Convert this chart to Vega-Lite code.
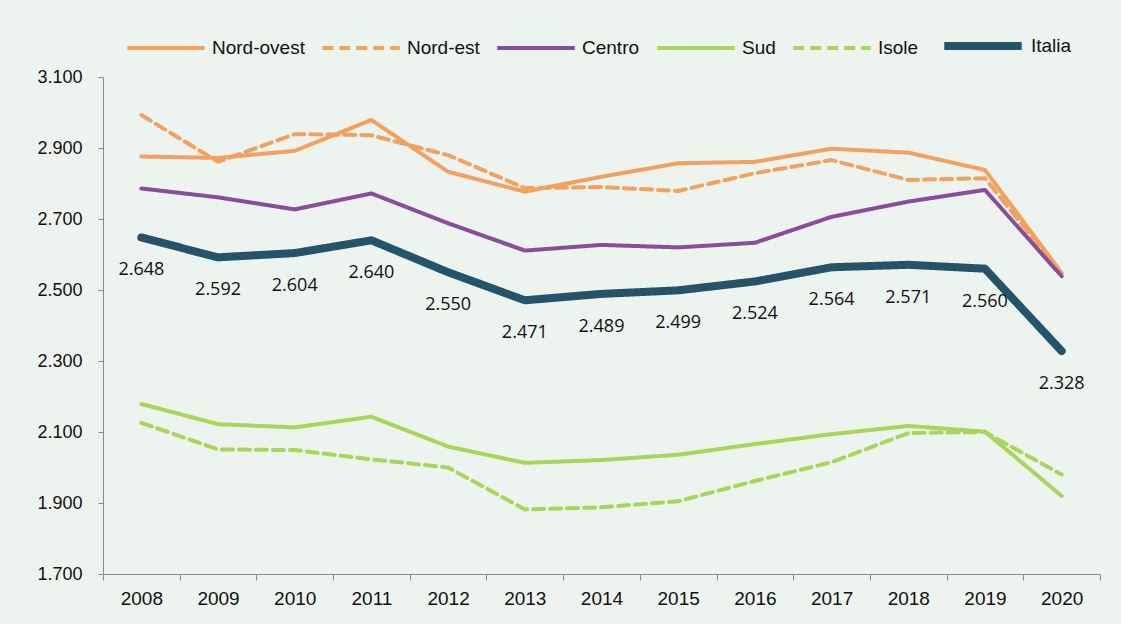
{
  "$schema": "https://vega.github.io/schema/vega-lite/v6.json",
  "width": 997,
  "height": 497,
  "autosize": {"type": "none"},
  "padding": {"left": 103, "top": 77, "right": 21, "bottom": 50},
  "background": "#EDF4EF",
  "config": {
    "locale": {"number": {"decimal": ",", "thousands": ".", "grouping": [3], "currency": ["€", ""]}},
    "view": {"stroke": null},
    "font": "Liberation Sans"
  },
  "data": {
    "values": [
      {"anno": "2008", "area": "Nord-ovest", "valore": 2876},
      {"anno": "2009", "area": "Nord-ovest", "valore": 2872},
      {"anno": "2010", "area": "Nord-ovest", "valore": 2892},
      {"anno": "2011", "area": "Nord-ovest", "valore": 2979},
      {"anno": "2012", "area": "Nord-ovest", "valore": 2833},
      {"anno": "2013", "area": "Nord-ovest", "valore": 2777},
      {"anno": "2014", "area": "Nord-ovest", "valore": 2819},
      {"anno": "2015", "area": "Nord-ovest", "valore": 2857},
      {"anno": "2016", "area": "Nord-ovest", "valore": 2861},
      {"anno": "2017", "area": "Nord-ovest", "valore": 2898},
      {"anno": "2018", "area": "Nord-ovest", "valore": 2887},
      {"anno": "2019", "area": "Nord-ovest", "valore": 2838},
      {"anno": "2020", "area": "Nord-ovest", "valore": 2548},
      {"anno": "2008", "area": "Nord-est", "valore": 2993},
      {"anno": "2009", "area": "Nord-est", "valore": 2861},
      {"anno": "2010", "area": "Nord-est", "valore": 2939},
      {"anno": "2011", "area": "Nord-est", "valore": 2936},
      {"anno": "2012", "area": "Nord-est", "valore": 2880},
      {"anno": "2013", "area": "Nord-est", "valore": 2787},
      {"anno": "2014", "area": "Nord-est", "valore": 2790},
      {"anno": "2015", "area": "Nord-est", "valore": 2779},
      {"anno": "2016", "area": "Nord-est", "valore": 2829},
      {"anno": "2017", "area": "Nord-est", "valore": 2866},
      {"anno": "2018", "area": "Nord-est", "valore": 2810},
      {"anno": "2019", "area": "Nord-est", "valore": 2815},
      {"anno": "2020", "area": "Nord-est", "valore": 2545},
      {"anno": "2008", "area": "Centro", "valore": 2786},
      {"anno": "2009", "area": "Centro", "valore": 2761},
      {"anno": "2010", "area": "Centro", "valore": 2727},
      {"anno": "2011", "area": "Centro", "valore": 2772},
      {"anno": "2012", "area": "Centro", "valore": 2688},
      {"anno": "2013", "area": "Centro", "valore": 2611},
      {"anno": "2014", "area": "Centro", "valore": 2627},
      {"anno": "2015", "area": "Centro", "valore": 2620},
      {"anno": "2016", "area": "Centro", "valore": 2633},
      {"anno": "2017", "area": "Centro", "valore": 2706},
      {"anno": "2018", "area": "Centro", "valore": 2749},
      {"anno": "2019", "area": "Centro", "valore": 2782},
      {"anno": "2020", "area": "Centro", "valore": 2539},
      {"anno": "2008", "area": "Sud", "valore": 2179},
      {"anno": "2009", "area": "Sud", "valore": 2122},
      {"anno": "2010", "area": "Sud", "valore": 2113},
      {"anno": "2011", "area": "Sud", "valore": 2143},
      {"anno": "2012", "area": "Sud", "valore": 2059},
      {"anno": "2013", "area": "Sud", "valore": 2013},
      {"anno": "2014", "area": "Sud", "valore": 2021},
      {"anno": "2015", "area": "Sud", "valore": 2036},
      {"anno": "2016", "area": "Sud", "valore": 2066},
      {"anno": "2017", "area": "Sud", "valore": 2094},
      {"anno": "2018", "area": "Sud", "valore": 2117},
      {"anno": "2019", "area": "Sud", "valore": 2101},
      {"anno": "2020", "area": "Sud", "valore": 1920},
      {"anno": "2008", "area": "Isole", "valore": 2126},
      {"anno": "2009", "area": "Isole", "valore": 2051},
      {"anno": "2010", "area": "Isole", "valore": 2049},
      {"anno": "2011", "area": "Isole", "valore": 2023},
      {"anno": "2012", "area": "Isole", "valore": 2000},
      {"anno": "2013", "area": "Isole", "valore": 1882},
      {"anno": "2014", "area": "Isole", "valore": 1888},
      {"anno": "2015", "area": "Isole", "valore": 1905},
      {"anno": "2016", "area": "Isole", "valore": 1962},
      {"anno": "2017", "area": "Isole", "valore": 2015},
      {"anno": "2018", "area": "Isole", "valore": 2097},
      {"anno": "2019", "area": "Isole", "valore": 2100},
      {"anno": "2020", "area": "Isole", "valore": 1980},
      {"anno": "2008", "area": "Italia", "valore": 2648},
      {"anno": "2009", "area": "Italia", "valore": 2592},
      {"anno": "2010", "area": "Italia", "valore": 2604},
      {"anno": "2011", "area": "Italia", "valore": 2640},
      {"anno": "2012", "area": "Italia", "valore": 2550},
      {"anno": "2013", "area": "Italia", "valore": 2471},
      {"anno": "2014", "area": "Italia", "valore": 2489},
      {"anno": "2015", "area": "Italia", "valore": 2499},
      {"anno": "2016", "area": "Italia", "valore": 2524},
      {"anno": "2017", "area": "Italia", "valore": 2564},
      {"anno": "2018", "area": "Italia", "valore": 2571},
      {"anno": "2019", "area": "Italia", "valore": 2560},
      {"anno": "2020", "area": "Italia", "valore": 2328}
    ]
  },
  "encoding": {
    "x": {
      "field": "anno",
      "type": "ordinal",
      "scale": {"type": "band", "paddingInner": 0, "paddingOuter": 0},
      "axis": {
        "title": null,
        "labelAngle": 0,
        "tickBand": "extent",
        "tickSize": 6,
        "tickColor": "#8a8a8a",
        "domainColor": "#8a8a8a",
        "labelFontSize": 19,
        "labelColor": "#111111",
        "labelPadding": 9
      }
    },
    "y": {
      "field": "valore",
      "type": "quantitative",
      "scale": {"domain": [1700, 3100], "nice": false, "zero": false},
      "axis": {
        "title": null,
        "values": [1700, 1900, 2100, 2300, 2500, 2700, 2900, 3100],
        "format": ",d",
        "grid": false,
        "tickSize": 5,
        "tickColor": "#8a8a8a",
        "domainColor": "#8a8a8a",
        "labelFontSize": 18,
        "labelColor": "#111111",
        "labelPadding": 16
      }
    }
  },
  "layer": [
    {
      "mark": {"type": "line", "strokeCap": "round", "strokeJoin": "round"},
      "encoding": {
        "color": {
          "field": "area",
          "type": "nominal",
          "scale": {
            "domain": ["Nord-ovest", "Nord-est", "Centro", "Sud", "Isole", "Italia"],
            "range": ["#F2A25E", "#F2A25E", "#8A4D9B", "#A9D65A", "#A9D65A", "#24536A"]
          },
          "legend": {
            "title": null,
            "orient": "none",
            "legendX": 22,
            "legendY": -74,
            "direction": "horizontal",
            "symbolType": "stroke",
            "symbolSize": 6000,
            "labelFontSize": 19,
            "labelColor": "#111111",
            "labelOffset": 5,
            "columnPadding": 9
          }
        },
        "strokeDash": {
          "field": "area",
          "type": "nominal",
          "scale": {
            "domain": ["Nord-ovest", "Nord-est", "Centro", "Sud", "Isole", "Italia"],
            "range": [[1, 0], [11, 6], [1, 0], [1, 0], [11, 6], [1, 0]]
          },
          "legend": {"title": null}
        },
        "strokeWidth": {
          "field": "area",
          "type": "nominal",
          "scale": {
            "type": "ordinal",
            "domain": ["Nord-ovest", "Nord-est", "Centro", "Sud", "Isole", "Italia"],
            "range": [4, 4, 4, 4, 4, 8]
          },
          "legend": {"title": null}
        }
      }
    },
    {
      "transform": [{"filter": "datum.area === 'Italia'"}],
      "mark": {"type": "text", "dy": 33, "fontSize": 18, "font": "Open Sans", "color": "#111111"},
      "encoding": {
        "text": {"field": "valore", "type": "quantitative", "format": ",d"}
      }
    }
  ]
}
